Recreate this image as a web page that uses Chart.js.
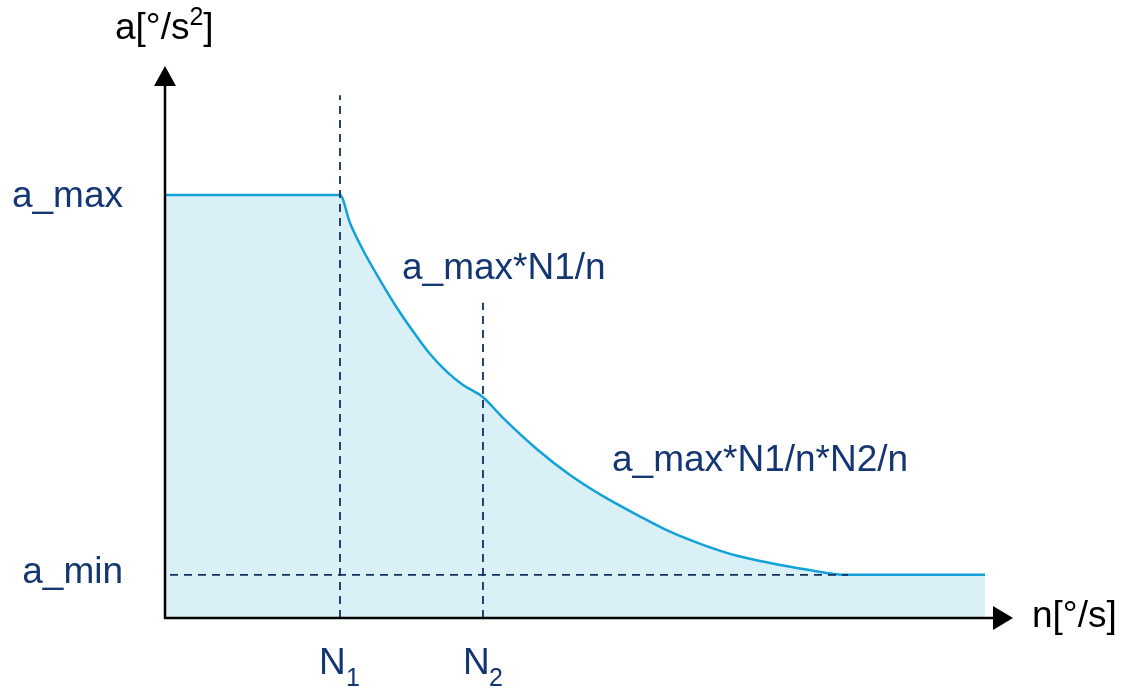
<!DOCTYPE html>
<html>
<head>
<meta charset="utf-8">
<script src="https://cdn.jsdelivr.net/npm/chart.js@4/dist/chart.umd.min.js"></script>
<style>
  html, body { margin: 0; padding: 0; background: #ffffff; }
  #wrap { width: 1133px; height: 687px; position: relative; }
</style>
</head>
<body>
<div id="wrap"><canvas id="myChart" width="1133" height="687"></canvas></div>
<script>
// curve (n in arbitrary units, a_max = 10)
var nVals = [0, 1.75, 1.85, 1.98, 2.15, 2.32, 2.48, 2.65, 2.82, 2.98, 3.18,
             3.38, 3.72, 4.05, 4.38, 4.72, 5.05, 5.38, 5.72, 6.05, 6.38, 6.83, 8.20];
var aVals = [10, 10, 9.34, 8.70, 7.99, 7.33, 6.78, 6.24, 5.82, 5.51, 5.22,
             4.73, 3.99, 3.38, 2.88, 2.44, 2.04, 1.73, 1.47, 1.30, 1.16, 1.02, 1.02];

var aMax = 10;
var aMin = 1.02;
var N1 = 1.75;
var N2 = 3.18;
var xMax = 8.48;
var yMax = 13.05;

// dashed guide lines
var n1Line = [{x: N1, y: 0}, {x: N1, y: 12.36}];
var n2Line = [{x: N2, y: 0}, {x: N2, y: 7.45}];
var minLine = [{x: 0.05, y: aMin}, {x: 6.83, y: aMin}];

var curve = [];
for (let i = 0; i < nVals.length; i++) {
  curve.push({x: nVals[i], y: aVals[i]});
}

var navy = '#143672';
var FONT = '"Liberation Sans", Arial, sans-serif';

// axes with arrows + text labels
const drawAxes = {
  id: 'drawAxes',
  afterDatasetsDraw(chart) {
    const ctx = chart.ctx;
    const xs = chart.scales.x;
    const ys = chart.scales.y;
    let x0 = xs.getPixelForValue(0);
    let y0 = ys.getPixelForValue(0);
    let xEnd = xs.getPixelForValue(xMax);
    let yTop = ys.getPixelForValue(yMax);

    ctx.save();
    ctx.strokeStyle = '#000';
    ctx.fillStyle = '#000';
    ctx.lineWidth = 2.5;
    ctx.beginPath();
    ctx.moveTo(x0, y0);
    ctx.lineTo(x0, yTop + 18);
    ctx.moveTo(x0 - 1.2, y0);
    ctx.lineTo(xEnd - 18, y0);
    ctx.stroke();
    // arrow heads
    ctx.beginPath();
    ctx.moveTo(x0, yTop);
    ctx.lineTo(x0 - 11, yTop + 20);
    ctx.lineTo(x0 + 11, yTop + 20);
    ctx.closePath();
    ctx.fill();
    ctx.beginPath();
    ctx.moveTo(xEnd, y0);
    ctx.lineTo(xEnd - 20, y0 - 12);
    ctx.lineTo(xEnd - 20, y0 + 12);
    ctx.closePath();
    ctx.fill();

    // axis titles
    ctx.textBaseline = 'alphabetic';
    ctx.textAlign = 'left';
    ctx.font = '37px ' + FONT;
    ctx.fillText('a[°/s', 115, 39);
    let w = ctx.measureText('a[°/s').width;
    ctx.font = '25px ' + FONT;
    ctx.fillText('2', 115 + w, 25);
    let w2 = ctx.measureText('2').width;
    ctx.font = '37px ' + FONT;
    ctx.fillText(']', 115 + w + w2, 39);
    ctx.fillText('n[°/s]', 1032, 627);

    // value labels
    ctx.fillStyle = navy;
    ctx.textAlign = 'right';
    ctx.fillText('a_max', 123, ys.getPixelForValue(aMax) + 12);
    ctx.fillText('a_min', 123, ys.getPixelForValue(aMin) + 8);

    ctx.textAlign = 'left';
    ctx.fillText('N', xs.getPixelForValue(N1) - 21, 674);
    ctx.fillText('N', xs.getPixelForValue(N2) - 20, 674);
    ctx.font = '25px ' + FONT;
    ctx.fillText('1', xs.getPixelForValue(N1) + 6, 686);
    ctx.fillText('2', xs.getPixelForValue(N2) + 6, 686);

    ctx.font = '37px ' + FONT;
    ctx.fillText('a_max*N1/n', 402, 279);
    ctx.fillText('a_max*N1/n*N2/n', 612, 471);
    ctx.restore();
  }
};

var dash = {
  borderColor: '#10305f',
  borderWidth: 1.8,
  borderDash: [8, 6],
  pointRadius: 0,
  fill: false,
  tension: 0
};

var ctx = document.getElementById('myChart').getContext('2d');
var myChart = new Chart(ctx, {
  type: 'line',
  data: {
    datasets: [
      Object.assign({data: n1Line, order: 1}, dash),
      Object.assign({data: n2Line, order: 1}, dash),
      Object.assign({data: minLine, order: 1}, dash),
      {
        data: curve,
        order: 2,
        borderColor: '#12a1d8',
        borderWidth: 2.5,
        backgroundColor: '#daf0f7',
        fill: 'origin',
        pointRadius: 0,
        cubicInterpolationMode: 'monotone'
      }
    ]
  },
  options: {
    responsive: false,
    animation: false,
    layout: { padding: { left: 165, right: 120, top: 66, bottom: 69 } },
    plugins: { legend: { display: false }, tooltip: { enabled: false } },
    scales: {
      x: { type: 'linear', min: 0, max: xMax, display: false },
      y: { type: 'linear', min: 0, max: yMax, display: false }
    }
  },
  plugins: [drawAxes]
});
</script>
</body>
</html>
